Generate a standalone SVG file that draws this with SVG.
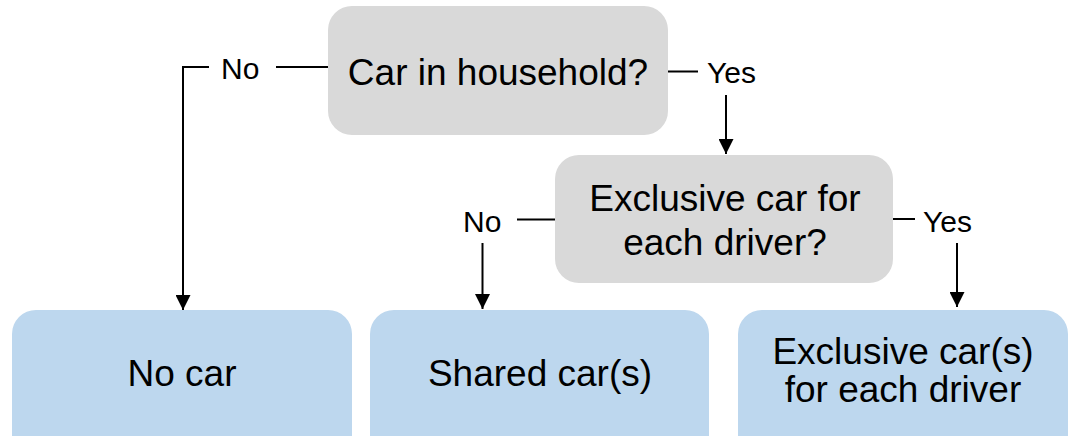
<svg xmlns="http://www.w3.org/2000/svg" width="1069" height="436" viewBox="0 0 1069 436">
<defs>
<marker id="ah" markerUnits="userSpaceOnUse" markerWidth="15" markerHeight="15" refX="15" refY="7.5" orient="auto" viewBox="0 0 15 15">
<path d="M0,0 L15,7.5 L0,15 Z" fill="#000"/>
</marker>
<style>
.q{fill:#D9D9D9}
.r{fill:#BDD7EE}
.t{font-family:"Liberation Sans",Arial,sans-serif;font-size:37px;fill:#000;text-anchor:middle}
.l{font-family:"Liberation Sans",Arial,sans-serif;font-size:30px;fill:#000}
.c{fill:none;stroke:#000;stroke-width:2}
.a{fill:none;stroke:#000;stroke-width:2;marker-end:url(#ah)}
</style>
</defs>
<rect width="1069" height="436" fill="#fff"/>
<g id="n-car-in-household">
<rect class="q" x="328" y="6" width="340" height="129" rx="24"/>
<text class="t" x="498" y="85">Car in household?</text>
</g>
<g id="n-exclusive-question">
<rect class="q" x="555" y="155" width="338" height="128" rx="24"/>
<text class="t" x="725" y="211">Exclusive car for</text>
<text class="t" x="725" y="255">each driver?</text>
</g>
<g id="n-no-car">
<rect class="r" x="12" y="310" width="340" height="150" rx="24"/>
<text class="t" x="182" y="386">No car</text>
</g>
<g id="n-shared">
<rect class="r" x="370" y="310" width="339" height="150" rx="24"/>
<text class="t" x="540" y="386">Shared car(s)</text>
</g>
<g id="n-exclusive">
<rect class="r" x="738" y="310" width="330" height="150" rx="24"/>
<text class="t" x="903" y="364">Exclusive car(s)</text>
<text class="t" x="903" y="402">for each driver</text>
</g>
<g id="connectors">
<line class="c" x1="328" y1="67" x2="276" y2="67"/>
<text class="l" x="221" y="79">No</text>
<polyline class="a" points="209,67 183,67 183,310"/>
<line class="c" x1="668" y1="71.5" x2="698" y2="71.5"/>
<text class="l" x="707" y="83">Yes</text>
<line class="a" x1="726" y1="95" x2="726" y2="154"/>
<line class="c" x1="555" y1="219.5" x2="517" y2="219.5"/>
<text class="l" x="463" y="232">No</text>
<line class="a" x1="482.5" y1="243" x2="482.5" y2="309"/>
<line class="c" x1="893" y1="219" x2="915" y2="219"/>
<text class="l" x="923" y="232">Yes</text>
<line class="a" x1="957" y1="243" x2="957" y2="307"/>
</g>
</svg>
